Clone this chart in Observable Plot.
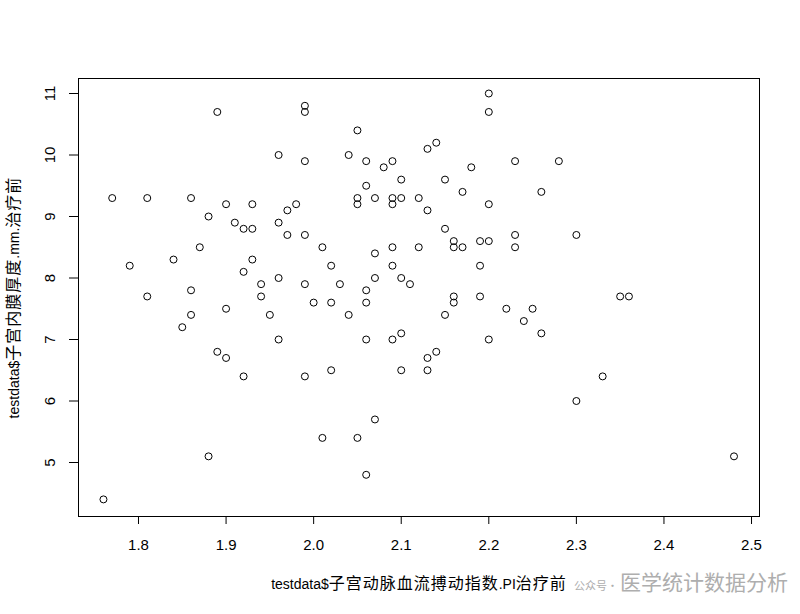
<!DOCTYPE html>
<html>
<head>
<meta charset="utf-8">
<script src="https://cdn.jsdelivr.net/npm/d3@7"></script>
<script src="https://cdn.jsdelivr.net/npm/@observablehq/plot@0.6"></script>
<style>
  html, body { margin: 0; padding: 0; background: #fff; }
  #wrap { position: relative; width: 800px; height: 614px; }
  #wm { position: absolute; left: 574px; top: 566px; font-family: "Noto Sans CJK SC", sans-serif; color: #9a9a9a; opacity: 0.8; white-space: nowrap; }
  #wm .a { font-size: 11px; }
  #wm .b { font-size: 21px; margin-left: 2px; }
</style>
</head>
<body>
<div id="wrap"><div id="wm"><span class="a">公众号·</span><span class="b">医学统计数据分析</span></div></div>
<script>
// Data
const piBefore = [1.76,1.77,1.79,1.81,1.81,1.84,1.85,1.86,1.86,1.86,1.87,1.88,1.88,1.89,1.89,1.90,1.90,1.90,1.91,1.92,1.92,1.92,1.93,1.93,1.93,1.94,1.94,1.95,1.96,1.96,1.96,1.96,1.97,1.97,1.98,1.99,1.99,1.99,1.99,1.99,1.99,2.00,2.01,2.01,2.02,2.02,2.02,2.03,2.04,2.04,2.05,2.05,2.05,2.05,2.06,2.06,2.06,2.06,2.06,2.06,2.07,2.07,2.07,2.07,2.08,2.09,2.09,2.09,2.09,2.09,2.09,2.10,2.10,2.10,2.10,2.10,2.11,2.12,2.12,2.13,2.13,2.13,2.13,2.14,2.14,2.15,2.15,2.15,2.16,2.16,2.16,2.16,2.17,2.17,2.18,2.19,2.19,2.19,2.20,2.20,2.20,2.20,2.20,2.22,2.23,2.23,2.23,2.24,2.25,2.26,2.26,2.28,2.30,2.30,2.33,2.35,2.36,2.48];
const endoBefore = [4.4,9.3,8.2,9.3,7.7,8.3,7.2,9.3,7.8,7.4,8.5,9.0,5.1,10.7,6.8,9.2,7.5,6.7,8.9,8.8,8.1,6.4,9.2,8.8,8.3,7.9,7.7,7.4,10.0,8.9,8.0,7.0,9.1,8.7,9.2,10.8,10.7,9.9,8.7,7.9,6.4,7.6,8.5,5.4,8.2,7.6,6.5,7.9,10.0,7.4,10.4,9.3,9.2,5.4,9.9,9.5,7.8,7.6,7.0,4.8,9.3,8.4,8.0,5.7,9.8,9.9,9.3,9.2,8.5,8.2,7.0,9.6,9.3,8.0,7.1,6.5,7.9,9.3,8.5,10.1,9.1,6.7,6.5,10.2,6.8,9.6,8.8,7.4,8.6,8.5,7.7,7.6,9.4,8.5,9.8,8.6,8.2,7.7,11.0,10.7,9.2,8.6,7.0,7.5,9.9,8.7,8.5,7.3,7.5,9.4,7.1,9.9,8.7,6.0,6.4,7.7,7.7,5.1];
const xTicks = [1.8,1.9,2.0,2.1,2.2,2.3,2.4,2.5];
const yTicks = [5,6,7,8,9,10,11];
const xLabel = "testdata$子宫动脉血流搏动指数.PI治疗前";
const yLabel = "testdata$子宫内膜厚度.mm.治疗前";

const points = piBefore.map((x, i) => ({x, y: endoBefore[i]}));
const font = "Liberation Sans, Arial, 'Noto Sans CJK SC', sans-serif";

const chart = Plot.plot({
  width: 800,
  height: 614,
  marginLeft: 78,
  marginRight: 41,
  marginTop: 78,
  marginBottom: 98,
  style: {fontFamily: font, background: "white", color: "black"},
  x: {domain: [1.7315, 2.5091]},
  y: {domain: [4.122, 11.244]},
  marks: [
    Plot.frame({stroke: "black", strokeWidth: 1}),
    Plot.axisX({ticks: xTicks, tickSize: 8, tickPadding: 15, tickFormat: d3.format(".1f"), fontSize: 15, label: null}),
    Plot.axisY({ticks: yTicks, tickSize: 9, tickFormat: () => "", label: null}),
    Plot.text(yTicks, {y: d => d, text: d => String(d), frameAnchor: "left", dx: -28, rotate: -90, textAnchor: "middle", lineAnchor: "middle", fontSize: 15}),
    Plot.text([xLabel], {frameAnchor: "bottom", dy: 68, textAnchor: "middle", lineAnchor: "middle", fontSize: 14}),
    Plot.text([yLabel], {frameAnchor: "left", dx: -64, rotate: -90, textAnchor: "middle", lineAnchor: "middle", fontSize: 14}),
    Plot.dot(points, {x: "x", y: "y", r: 3.5, stroke: "black", strokeWidth: 1, fill: "none"})
  ]
});

// Render CJK runs of the axis titles slightly wider, as in the reference
chart.querySelectorAll("text").forEach(t => {
  const s = t.textContent;
  if (s !== xLabel && s !== yLabel) return;
  const runs = s.match(/[\u4e00-\u9fff]+|[^\u4e00-\u9fff]+/g);
  while (t.firstChild) t.removeChild(t.firstChild);
  runs.forEach(r => {
    const ts = document.createElementNS("http://www.w3.org/2000/svg", "tspan");
    const cjk = /[\u4e00-\u9fff]/.test(r);
    ts.setAttribute("font-size", cjk ? "16" : "14");
    if (cjk) {
      ts.setAttribute("font-family", "'Noto Sans CJK SC', sans-serif");
      ts.setAttribute("letter-spacing", "1");
    }
    ts.textContent = r;
    t.appendChild(ts);
  });
});

document.getElementById("wrap").prepend(chart);
chart.style.position = "absolute";
chart.style.left = "0";
chart.style.top = "0";
</script>
</body>
</html>
